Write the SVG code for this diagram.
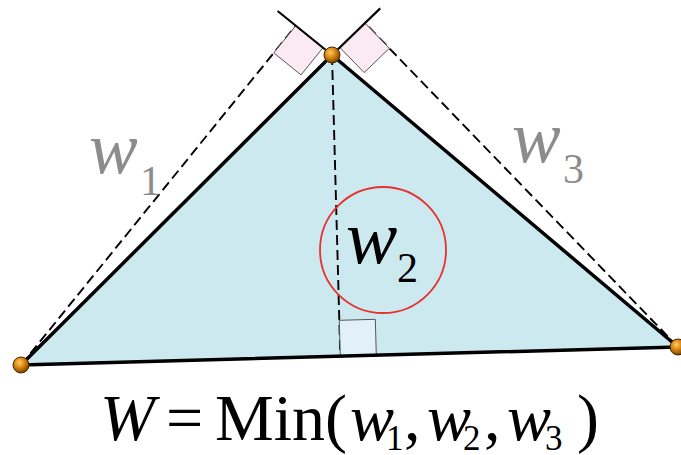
<svg xmlns="http://www.w3.org/2000/svg" width="681" height="455" viewBox="0 0 681 455">
<defs>
<radialGradient id="ball" cx="0.4" cy="0.35" r="0.65">
<stop offset="0" stop-color="#ffcc66"/>
<stop offset="0.5" stop-color="#d9860f"/>
<stop offset="1" stop-color="#7a4300"/>
</radialGradient>
<style>
.edge{stroke:#000;stroke-width:3.5;fill:none;stroke-linecap:round}
.ext{stroke:#000;stroke-width:2.2;fill:none}
.dash{stroke:#000;stroke-width:1.9;fill:none;stroke-dasharray:10 5}
.pink{fill:#fceaf2;stroke:#555;stroke-width:1}
.blue{fill:#e2f0f8;stroke:#555;stroke-width:1}
.v{fill:url(#ball);stroke:#4a2800;stroke-width:1}
.m{font-family:"Liberation Serif","Times New Roman",serif}
.it{font-style:italic}
.gray{fill:#8c8c8c}
</style>
</defs>
<rect width="681" height="455" fill="#fff"/>
<g id="triangle">
<polygon points="332,55 21,365 678,347" fill="#cde9f0"/>
</g>
<g id="connectors">
<line class="dash" x1="21" y1="365" x2="295.8" y2="25.7"/>
<line class="dash" x1="678" y1="347" x2="365" y2="23.1"/>
<line class="dash" x1="332" y1="55" x2="340.3" y2="356.3"/>
<polygon class="pink" points="295.8,25.7 323,47.7 301,74.9 273.8,52.9"/>
<polygon class="pink" points="365,23.1 339.8,47.4 364.2,72.6 389.3,48.3"/>
<polygon class="blue" points="340.3,356.3 376.3,355.3 375.3,319.3 339.3,320.3"/>
<line class="ext" x1="332" y1="55" x2="277.6" y2="11"/>
<line class="ext" x1="332" y1="55" x2="380.2" y2="8.4"/>
<polyline class="edge" points="21,365 332,55 678,347"/>
<line class="edge" x1="21" y1="365" x2="678" y2="347"/>
</g>
<circle id="highlight" cx="383" cy="250" r="63" fill="none" stroke="#e8302f" stroke-width="1.8"/>
<g id="vertexA"><circle class="v" cx="332" cy="55" r="8"/></g>
<g id="vertexB"><circle class="v" cx="21" cy="365" r="8"/></g>
<g id="vertexC"><circle class="v" cx="678" cy="347" r="8"/></g>
<g id="label-w1" class="m gray">
<text x="89" y="173" font-size="73" class="it">w</text>
<text x="140" y="195" font-size="42">1</text>
</g>
<g id="label-w3" class="m gray">
<text x="512" y="162" font-size="73" class="it">w</text>
<text x="563" y="183" font-size="42">3</text>
</g>
<g id="label-w2" class="m">
<text x="346" y="263" font-size="77" class="it">w</text>
<text x="397" y="282" font-size="42">2</text>
</g>
<g id="formula" class="m" font-size="66">
<text x="100" y="440" class="it">W</text>
<text x="166" y="440">=</text>
<text x="215" y="440">Min(</text>
<text x="350" y="440" class="it">w</text>
<text x="386" y="450" font-size="35">1</text>
<text x="404" y="440">,</text>
<text x="427" y="440" class="it">w</text>
<text x="463" y="450" font-size="35">2</text>
<text x="484" y="440">,</text>
<text x="507" y="440" class="it">w</text>
<text x="545" y="450" font-size="35">3</text>
<text x="577" y="440">)</text>
</g>
</svg>
